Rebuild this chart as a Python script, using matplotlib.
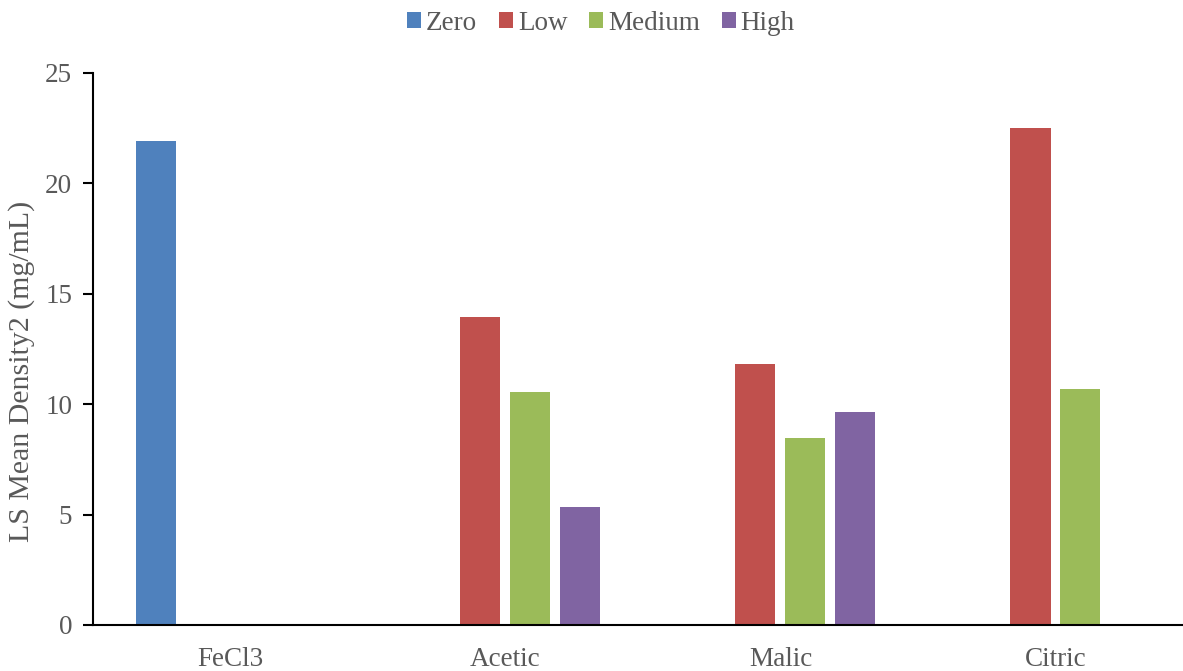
import numpy as np
import matplotlib.pyplot as plt

plt.rcParams['font.family'] = ['Liberation Serif', 'DejaVu Serif']

categories = ['FeCl3', 'Acetic', 'Malic', 'Citric']
levels = ['Zero', 'Low', 'Medium', 'High']
colors = ['#4F81BD', '#C0504D', '#9BBB59', '#8064A2']

# LS mean density per acid (NaN where a level was not tested)
zero = [21.9, np.nan, np.nan, np.nan]
low = [np.nan, 13.95, 11.82, 22.52]
medium = [np.nan, 10.55, 8.45, 10.69]
high = [np.nan, 5.35, 9.65, np.nan]
series = [zero, low, medium, high]

text_color = '#595959'
fs = 19.5

fig = plt.figure(figsize=(11.83, 6.71), dpi=100)
W, H = 1183, 671
ax = fig.add_axes([93 / W, 1 - 625 / H, 1100 / W, (625 - 73) / H])

x = np.arange(len(categories))
slot = 50 / 275
width = 40 / 275
for i, (name, vals, c) in enumerate(zip(levels, series, colors)):
    offs = (i - 1.5) * slot
    ax.bar(x + offs, vals, width, color=c, label=name, zorder=2)

ax.set_xlim(-0.5, len(categories) - 0.5)
ax.set_ylim(0, 25)
ax.set_yticks(np.arange(0, 26, 5))
ax.set_xticks(x)
ax.set_xticklabels(categories)

for side in ['top', 'right']:
    ax.spines[side].set_visible(False)
ax.spines['left'].set_linewidth(1.5)
ax.spines['bottom'].set_linewidth(1.5)
ax.tick_params(axis='y', length=7, width=1.5, labelsize=fs, labelcolor=text_color, pad=8)
ax.tick_params(axis='x', length=0, labelsize=fs, labelcolor=text_color, pad=16)

ax.set_ylabel('LS Mean Density2 (mg/mL)', fontsize=21.5, color=text_color)
ax.yaxis.set_label_coords(-0.053, 0.46)

fig.legend(loc='upper center', bbox_to_anchor=(601 / W, 1.0), ncol=4, frameon=False,
           fontsize=fs, labelcolor=text_color, handlelength=0.52, handleheight=0.52,
           handletextpad=0.18, columnspacing=0.8, borderaxespad=0.0)

fig.savefig('out.png', dpi=100)
